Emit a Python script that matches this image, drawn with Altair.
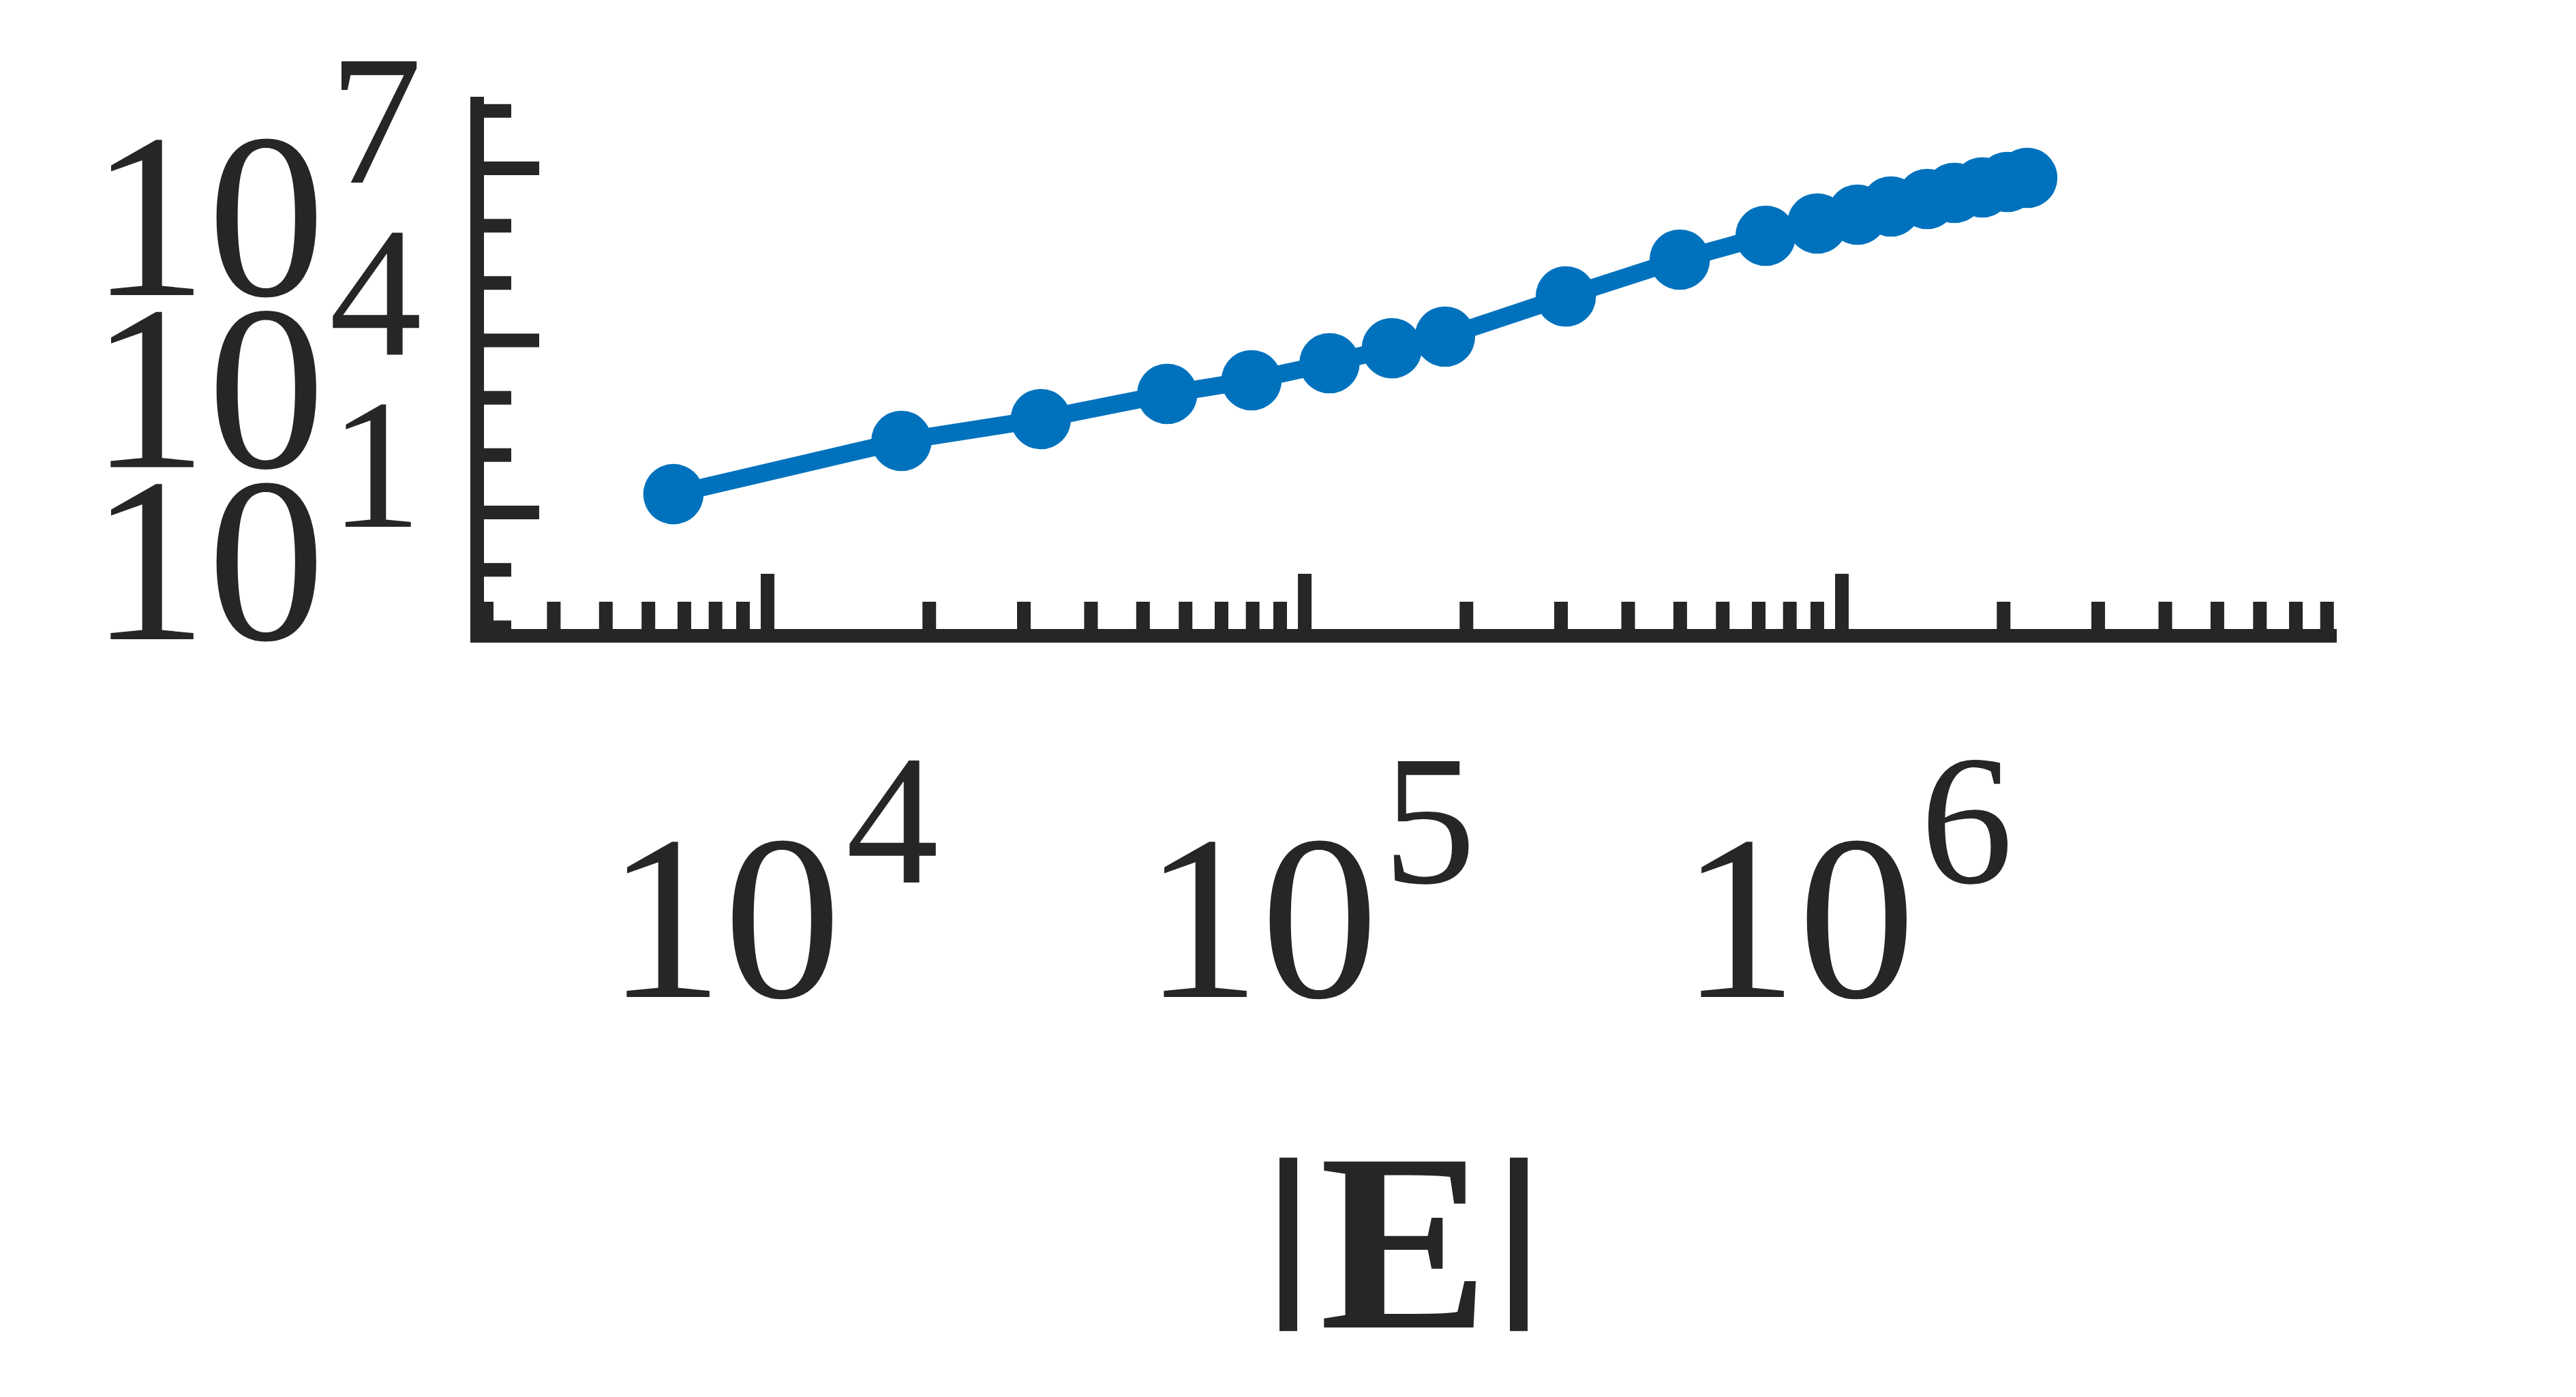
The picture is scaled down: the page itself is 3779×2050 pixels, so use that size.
import altair as alt
import pandas as pd

# ---- data ----
edges = [6680, 17750, 32260, 55460, 79600, 111200, 145300, 182400, 306200,
         499000, 721000, 900000, 1069000, 1234000, 1441000, 1619000,
         1825000, 2032000, 2213000]
values = [20.9, 177, 425, 1168, 2018, 4000, 7300, 11620, 58400, 255900,
          666000, 1090000, 1556000, 2160000, 2920000, 3730000, 4650000,
          5780000, 6820000]

x_major = [1e4, 1e5, 1e6]
x_major_exp = ["4", "5", "6"]
y_major = [1e1, 1e4, 1e7]
y_major_exp = ["1", "4", "7"]
x_domain = [2880, 8.10e6]
y_domain = [0.0708, 1.345e8]
x_title = "|E|"

x_minor = [m * 10 ** e for e in range(3, 7) for m in range(2, 10)
           if x_domain[0] <= m * 10 ** e <= x_domain[1]]
y_minor = [10.0 ** e for e in [-1, 0, 2, 3, 5, 6, 8]]

BLUE = "#0072BD"
INK = "#262626"
SERIF = "Liberation Serif"
W, H = 2718, 781
AXW = 20

df = pd.DataFrame({"E": edges, "V": values})
xmaj = pd.DataFrame({"v": x_major, "base": ["10"] * 3, "exp": x_major_exp})
ymaj = pd.DataFrame({"v": y_major, "base": ["10"] * 3, "exp": y_major_exp})
xmin = pd.DataFrame({"v": x_minor})
ymin = pd.DataFrame({"v": y_minor})
one = pd.DataFrame({"t": [x_title]})
bar_l = pd.DataFrame({"t": [x_title[0]]})
letter = pd.DataFrame({"t": [x_title[1:-1]]})
bar_r = pd.DataFrame({"t": [x_title[-1]]})

xscale = alt.Scale(type="log", domain=x_domain, nice=False)
yscale = alt.Scale(type="log", domain=y_domain, nice=False)

line = alt.Chart(df).mark_line(color=BLUE, strokeWidth=26).encode(
    x=alt.X("E:Q", scale=xscale, axis=None),
    y=alt.Y("V:Q", scale=yscale, axis=None),
)
pts = alt.Chart(df).mark_circle(color=BLUE, size=7854, opacity=1).encode(
    x=alt.X("E:Q", scale=xscale, axis=None),
    y=alt.Y("V:Q", scale=yscale, axis=None),
)

def xtick(data, length):
    return alt.Chart(data).mark_rule(color=INK, strokeWidth=AXW, strokeCap="butt").encode(
        x=alt.X("v:Q", scale=xscale, axis=None),
        y=alt.value(H), y2=alt.value(H - length),
    )

def ytick(data, length):
    return alt.Chart(data).mark_rule(color=INK, strokeWidth=AXW, strokeCap="butt").encode(
        y=alt.Y("v:Q", scale=yscale, axis=None),
        x=alt.value(0), x2=alt.value(length),
    )

# axis lines
x_dom = alt.Chart(one).mark_rule(color=INK, strokeWidth=AXW, strokeCap="butt").encode(
    x=alt.value(-AXW / 2), x2=alt.value(W + AXW / 2), y=alt.value(H))
y_dom = alt.Chart(one).mark_rule(color=INK, strokeWidth=AXW, strokeCap="butt").encode(
    x=alt.value(0), y=alt.value(-AXW / 2), y2=alt.value(H + AXW / 2))

# x-axis title "|E|"
t_E = alt.Chart(letter).mark_text(font=SERIF, fontSize=372, fontWeight="bold",
                                  color=INK, align="center", baseline="alphabetic").encode(
    x=alt.value(1360), y=alt.value(H + 1015), text="t:N")
bar_style = dict(font=SERIF, fontSize=272, fontWeight="bold", color=INK,
                 stroke=INK, strokeWidth=7, align="center", baseline="alphabetic")
t_bl = alt.Chart(bar_l).mark_text(**bar_style).encode(
    x=alt.value(1190), y=alt.value(H + 958), text="t:N")
t_br = alt.Chart(bar_r).mark_text(**bar_style).encode(
    x=alt.value(1528), y=alt.value(H + 958), text="t:N")

x_lab = alt.Chart(xmaj).mark_text(font=SERIF, fontSize=345, color=INK,
                                  align="right", baseline="alphabetic", dx=108).encode(
    x=alt.X("v:Q", scale=xscale, axis=None), y=alt.value(1311), text="base:N")
x_sup = alt.Chart(xmaj).mark_text(font=SERIF, fontSize=272, color=INK,
                                  align="left", baseline="alphabetic", dx=115).encode(
    x=alt.X("v:Q", scale=xscale, axis=None), y=alt.value(1143), text="exp:N")
y_lab = alt.Chart(ymaj).mark_text(font=SERIF, fontSize=345, color=INK,
                                  align="right", baseline="alphabetic", dy=186).encode(
    y=alt.Y("v:Q", scale=yscale, axis=None), x=alt.value(-223), text="base:N")
y_sup = alt.Chart(ymaj).mark_text(font=SERIF, fontSize=272, color=INK,
                                  align="left", baseline="alphabetic", dy=21).encode(
    y=alt.Y("v:Q", scale=yscale, axis=None), x=alt.value(-217), text="exp:N")

chart = alt.layer(
    xtick(xmin, 50), xtick(xmaj, 91), ytick(ymin, 50), ytick(ymaj, 91),
    x_dom, y_dom, line, pts, x_lab, x_sup, y_lab, y_sup, t_bl, t_E, t_br,
).properties(
    width=W, height=H,
    padding={"left": 692, "top": 144, "right": 340, "bottom": 1100},
    autosize=alt.AutoSizeParams(type="none"),
    background="white",
).configure_view(strokeWidth=0)

chart.save("out.html", embed_options={"renderer": "svg", "actions": False})
